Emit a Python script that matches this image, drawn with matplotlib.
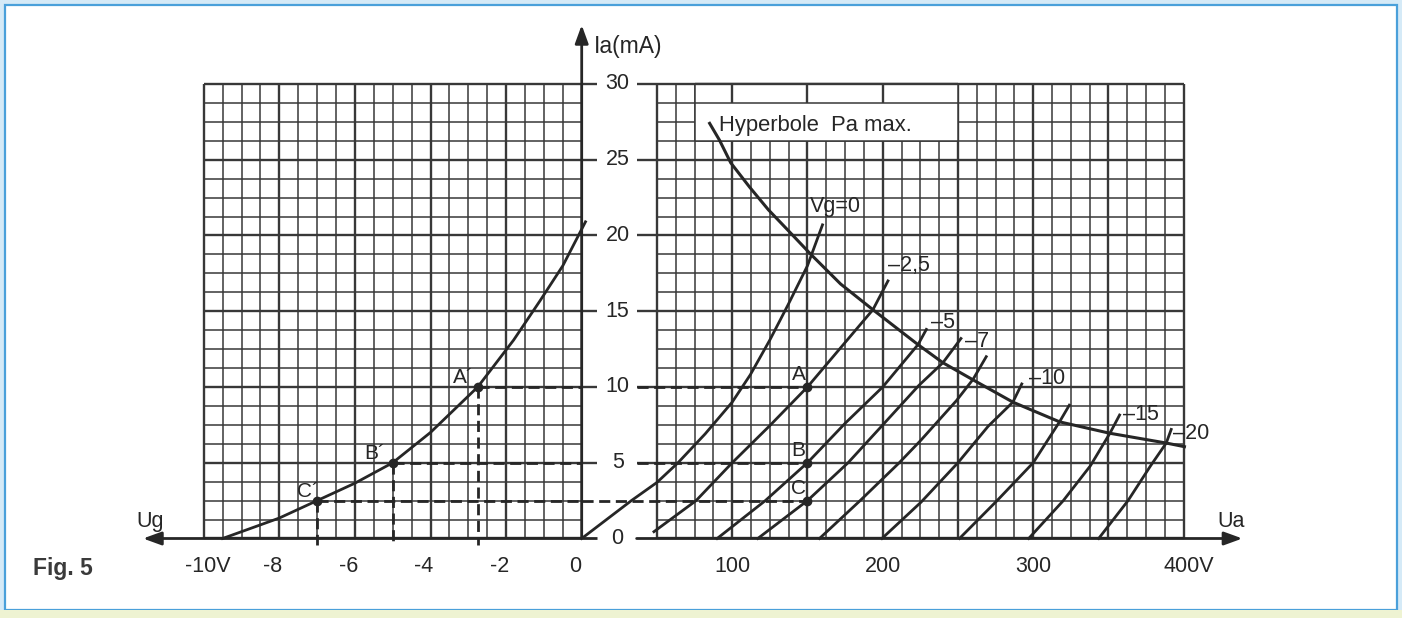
import numpy as np
import matplotlib
matplotlib.use('Agg')
import matplotlib.pyplot as plt
from matplotlib.patches import Rectangle

# --- data ------------------------------------------------------------------
# left quadrant: transfer characteristic Ia = f(Ug) at Ua = 150 V
ug_transfer = [-9.5, -8.0, -7.0, -6.0, -5.0, -4.0, -2.75, -1.8, -1.1, -0.5, 0.1]
ia_transfer = [0.0, 1.35, 2.5, 3.65, 5.0, 7.0, 10.0, 13.1, 15.7, 18.0, 20.9]

# right quadrant: anode characteristics Ia = f(Ua) for several grid voltages
ua_vg0 = [0, 33, 50, 64, 82, 100, 112, 125, 137, 150, 160]
ia_vg0 = [0.0, 2.5, 3.7, 5.0, 6.9, 9.0, 10.8, 13.1, 15.4, 18.0, 20.7]
ua_vg2 = [48, 76, 100, 125, 150, 173, 193.5, 203.5]
ia_vg2 = [0.45, 2.5, 5.0, 7.45, 10.0, 12.7, 15.1, 17.0]
ua_vg5 = [90, 122, 150, 175, 200, 223.5, 229]
ia_vg5 = [0.0, 2.5, 5.0, 7.6, 10.0, 12.8, 13.8]
ua_vg7 = [117, 150, 177, 201, 224, 240, 252]
ia_vg7 = [0.0, 2.5, 5.0, 7.6, 10.1, 11.6, 13.2]
ua_vg8 = [158, 185, 211, 225.5, 249, 260, 268.8]
ia_vg8 = [0.0, 2.5, 5.0, 6.5, 9.1, 10.5, 12.0]
ua_vg10 = [199.5, 225.5, 250, 270, 286.5, 292.4]
ia_vg10 = [0.0, 2.4, 5.0, 7.4, 9.0, 10.2]
ua_vg12 = [251, 276, 300, 317.5, 324]
ia_vg12 = [0.0, 2.5, 5.0, 7.7, 8.8]
ua_vg15 = [297, 320, 338, 351, 357.4]
ia_vg15 = [0.0, 2.5, 4.8, 6.95, 8.15]
ua_vg20 = [343.5, 363, 378, 388.4, 391.7]
ia_vg20 = [0.0, 2.5, 4.8, 6.3, 7.2]
curve_labels = ['Vg=0', '–2,5', '–5', '–7', '', '–10', '', '–15', '–20']

# power limit curve (Pa max)
ua_pmax = [85, 91.5, 99, 111.5, 124, 137, 151.8, 172, 193.5, 223.4, 240, 259.5,
           286.5, 317.5, 350.7, 388.4, 400.5]
ia_pmax = [27.4, 26.3, 24.8, 23.2, 21.7, 20.35, 18.8, 16.8, 15.1, 12.8, 11.6, 10.5,
           9.0, 7.7, 6.95, 6.3, 6.06]

# working points
pt_names = ['A', 'B', 'C']
pt_ua = [150, 150, 150]
pt_ia = [10.0, 5.0, 2.5]
pt_ug = [-2.75, -5.0, -7.0]

ug_ticks = [-10, -8, -6, -4, -2, 0]
ug_ticklabels = ['-10V', '-8', '-6', '-4', '-2', '0']
ua_ticks = [100, 200, 300, 400]
ua_ticklabels = ['100', '200', '300', '400V']
ia_ticks = [0, 5, 10, 15, 20, 25, 30]

# --- layout ----------------------------------------------------------------
W, H = 1402, 618
INK = '#262626'
GRID = '#383838'
FONT = 'Liberation Sans'
plt.rcParams['font.family'] = [FONT, 'DejaVu Sans']

# label anchors (data coords)
curve_label_pos = [(168.9, 21.9), (217.6, 18.05), (240, 14.26), (262.7, 13.0), None,
                   (309, 10.57), None, (371.8, 8.2), (404.7, 6.96)]
prime_label_pos = [(-3.13, 10.6), (-5.47, 5.6), (-7.24, 3.1)]


def px_rect(x0, x1, ytop, ybot):
    return [x0 / W, 1 - ybot / H, (x1 - x0) / W, (ybot - ytop) / H]


fig = plt.figure(figsize=(W / 100, H / 100), dpi=100)
fig.patch.set_facecolor('#d5eaf7')
fig.patches.append(Rectangle((5 / W, 1 - 610 / H), 1392 / W, 605 / H, transform=fig.transFigure,
                             facecolor='white', edgecolor='#4aa0da', lw=1.6, zorder=-10))
fig.patches.append(Rectangle((0, 0), 1, 8 / H, transform=fig.transFigure,
                             facecolor='#eef3d2', edgecolor='none', zorder=-10))

ax_l = fig.add_axes(px_rect(143, 581.7, 25, 553.65))
ax_r = fig.add_axes(px_rect(581.7, 1242.4, 25, 553.65))
ax_l.set_xlim(-11.606, 0)
ax_r.set_xlim(0, 439.0)
for ax in (ax_l, ax_r):
    ax.set_ylim(-1, 33.89)
    ax.set_axis_off()
    ax.patch.set_alpha(0)

# --- grids -----------------------------------------------------------------
MINOR, MAJOR = 1.1, 1.7
for v in np.arange(-10, 0.01, 0.5):
    ax_l.vlines(v, 0, 30, color=GRID, lw=MAJOR if v % 2 == 0 else MINOR, zorder=1)
for h in np.arange(0, 30.01, 1.25):
    ax_l.hlines(h, -10, 0, color=GRID, lw=MAJOR if h % 5 == 0 else MINOR, zorder=1)

for v in np.arange(50, 400.01, 12.5):
    ax_r.vlines(v, 0, 30, color=GRID, lw=MAJOR if v % 50 == 0 else MINOR, zorder=1)
for h in np.arange(0, 30.01, 1.25):
    ax_r.hlines(h, 50, 400, color=GRID, lw=MAJOR if h % 5 == 0 else MINOR, zorder=1)

# white label box over the grid
ax_r.add_patch(Rectangle((75, 26.25), 175, 3.75, facecolor='white', edgecolor='none', zorder=2))
ax_r.hlines([26.25, 28.75], 75, 250, color=GRID, lw=MINOR, zorder=3)
ax_r.hlines(30, 75, 250, color=GRID, lw=MAJOR, zorder=3)
ax_r.vlines([75, 250], 26.25, 30, color=GRID, lw=MINOR, zorder=3)
ax_r.vlines([100, 150, 200], 28.75, 30, color=GRID, lw=MAJOR, zorder=3)
ax_r.text(91.5, 27.25, 'Hyperbole  Pa max.', fontsize=15.8, color=INK, va='center', ha='left', zorder=4)

# --- axes with arrows ------------------------------------------------------
arrow = dict(arrowstyle='-|>,head_length=0.55,head_width=0.2', color=INK, lw=2.0,
             mutation_scale=20, shrinkA=0, shrinkB=0)
ax_r.annotate('', xy=(0, 33.89), xytext=(0, 0), arrowprops=arrow, zorder=5)
ax_l.annotate('', xy=(-11.606, 0), xytext=(0, 0), arrowprops=arrow, zorder=5)
ax_r.annotate('', xy=(439.0, 0), xytext=(36.5, 0), arrowprops=arrow, zorder=5)
ax_r.hlines(0, 0, 10, color=INK, lw=2.0, zorder=5)

for t in ia_ticks:
    ax_r.text(23.9, t, str(t), fontsize=15.5, color=INK, ha='center', va='center')
    if t > 0:
        ax_r.hlines(t, 0, 10, color=GRID, lw=MAJOR)
        ax_r.hlines(t, 36.5, 50, color=GRID, lw=MAJOR)

for v, s in zip(ug_ticks, ug_ticklabels):
    dx = 0.1 if s.endswith('V') else -0.17
    ax_l.text(v + dx, -1.86, s, fontsize=15.5, color=INK, ha='center', va='center')
for v, s in zip(ua_ticks, ua_ticklabels):
    dx = 3.5 if s.endswith('V') else 0
    ax_r.text(v + dx, -1.86, s, fontsize=15.5, color=INK, ha='center', va='center')

ax_r.text(8.0, 32.46, 'Ia(mA)', fontsize=16.5, color=INK, ha='left', va='center')
ax_l.text(-11.43, 1.1, 'Ug', fontsize=15.5, color=INK, ha='center', va='center')
ax_r.text(431.4, 1.1, 'Ua', fontsize=15.5, color=INK, ha='center', va='center')

# --- characteristic curves -------------------------------------------------
curves = [(ua_vg0, ia_vg0), (ua_vg2, ia_vg2), (ua_vg5, ia_vg5), (ua_vg7, ia_vg7),
          (ua_vg8, ia_vg8), (ua_vg10, ia_vg10), (ua_vg12, ia_vg12),
          (ua_vg15, ia_vg15), (ua_vg20, ia_vg20)]
for (ua, ia), lab, pos in zip(curves, curve_labels, curve_label_pos):
    ax_r.plot(ua, ia, color=INK, lw=2.0, zorder=6, clip_on=False, solid_joinstyle='round')
    if lab:
        ax_r.text(pos[0], pos[1], lab, fontsize=15.5, color=INK, ha='center', va='center', zorder=7)

ax_r.plot(ua_pmax, ia_pmax, color=INK, lw=2.2, zorder=6, solid_joinstyle='round')
ax_l.plot(ug_transfer, ia_transfer, color=INK, lw=2.0, zorder=6, clip_on=False, solid_joinstyle='round')

# --- working points and projection lines ----------------------------------
dash = dict(color=INK, lw=2.0, linestyle=(0, (4, 2)), zorder=5)
for name, ua, ia, ug, ppos in zip(pt_names, pt_ua, pt_ia, pt_ug, prime_label_pos):
    ax_l.plot([ug, 0], [ia, ia], **dash)
    ax_l.plot([ug, ug], [ia, -0.45], **dash)
    if ia % 5 == 0:
        ax_r.plot([36.5, ua], [ia, ia], **dash)
    else:
        ax_r.plot([0, ua], [ia, ia], **dash)
    ax_r.plot(ua, ia, 'o', color=INK, ms=6, zorder=8)
    ax_l.plot(ug, ia, 'o', color=INK, ms=6, zorder=8)
    ax_r.text(ua - 6, ia + 0.8, name, fontsize=15, color=INK, ha='center', va='center', zorder=7)
    ax_l.text(ppos[0], ppos[1], name + '\u00b4', fontsize=15, color=INK, ha='center', va='center', zorder=7)

fig.text(62.5 / W, 1 - 569 / H, 'Fig. 5', fontsize=16.5, fontweight='bold', color='#3a3a3a',
         ha='center', va='center')

fig.savefig('out.png', dpi=100, facecolor=fig.get_facecolor())
